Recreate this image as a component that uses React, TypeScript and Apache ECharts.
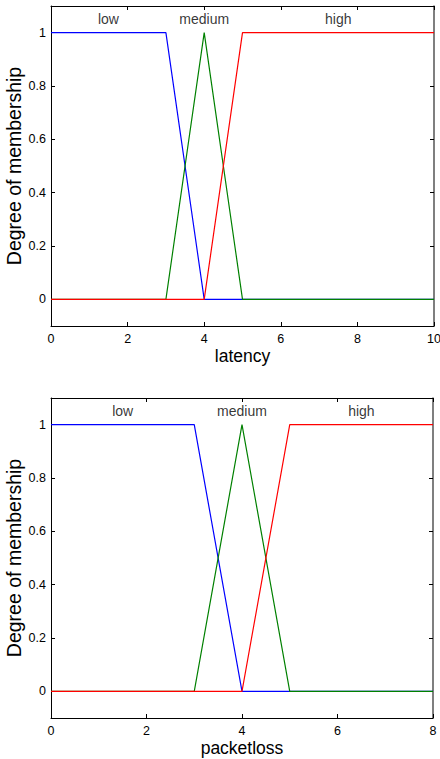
import React, { useEffect, useRef } from "react";
import * as echarts from "echarts";

// Membership function names and colours (low, medium, high)
const mfNames = ["low", "medium", "high"];
const mfColors = ["#0000ff", "#008000", "#ff0000"];

// latency input, range [0, 10]
const latencyRange = [0, 10];
const latencyLow = [[0, 1], [3, 1], [4, 0], [10, 0]];
const latencyMedium = [[0, 0], [3, 0], [4, 1], [5, 0], [10, 0]];
const latencyHigh = [[0, 0], [4, 0], [5, 1], [10, 1]];
const latencyLabelX = [1.5, 4, 7.5];

// packetloss input, range [0, 8]
const packetlossRange = [0, 8];
const packetlossLow = [[0, 1], [3, 1], [4, 0], [8, 0]];
const packetlossMedium = [[0, 0], [3, 0], [4, 1], [5, 0], [8, 0]];
const packetlossHigh = [[0, 0], [4, 0], [5, 1], [8, 1]];
const packetlossLabelX = [1.5, 4, 6.5];

const labelY = 1.05;
const yTicks = [0, 0.2, 0.4, 0.6, 0.8, 1];
const yRange = [-0.1, 1.1];

const FONT = "'Liberation Sans', Arial, Helvetica, sans-serif";

function xAxes(gridIndex: number, range: number[], name: string) {
  const common = {
    gridIndex,
    type: "value" as const,
    min: range[0],
    max: range[1],
    interval: 2,
    splitLine: { show: false },
    axisTick: { show: true, inside: true, length: 4, lineStyle: { color: "#000" } },
  };
  return [
    {
      ...common,
      position: "bottom",
      name,
      nameLocation: "middle",
      nameGap: 21,
      nameMoveOverlap: false,
      nameTextStyle: { fontSize: 17.5, color: "#000", fontFamily: FONT },
      axisLine: { show: true, onZero: false, lineStyle: { color: "#000", width: 1 } },
      axisLabel: { show: true, fontSize: 12.5, color: "#000", margin: 6, fontFamily: FONT },
    },
    {
      ...common,
      position: "top",
      axisLine: { show: true, onZero: false, lineStyle: { color: "#000", width: 1 } },
      axisLabel: { show: false },
    },
  ];
}

function yAxes(gridIndex: number) {
  const common = {
    gridIndex,
    type: "value" as const,
    min: yRange[0],
    max: yRange[1],
    splitLine: { show: false },
    axisTick: {
      show: true,
      inside: true,
      length: 4,
      customValues: yTicks,
      lineStyle: { color: "#000" },
    },
  };
  return [
    {
      ...common,
      position: "left",
      name: "Degree of membership",
      nameLocation: "middle",
      nameGap: 27,
      nameMoveOverlap: false,
      nameTextStyle: { fontSize: 19.5, color: "#000", fontFamily: FONT },
      axisLine: { show: true, onZero: false, lineStyle: { color: "#000", width: 1 } },
      axisLabel: {
        show: true,
        customValues: yTicks,
        fontSize: 12.5,
        color: "#000",
        margin: 5,
        fontFamily: FONT,
        formatter: (v: number) => String(v),
      },
    },
    {
      ...common,
      position: "right",
      axisLine: { show: true, onZero: false, lineStyle: { color: "#555", width: 1.5 } },
      axisLabel: { show: false },
    },
  ];
}

function mfSeries(axisIndex: number, curves: number[][][], labelX: number[]) {
  const lines = curves.map((data, i) => ({
    type: "line" as const,
    name: mfNames[i],
    xAxisIndex: axisIndex,
    yAxisIndex: axisIndex,
    data,
    symbol: "none",
    silent: true,
    lineStyle: { color: mfColors[i], width: 1.2 },
  }));
  const labels = {
    type: "scatter" as const,
    xAxisIndex: axisIndex,
    yAxisIndex: axisIndex,
    symbolSize: 1,
    silent: true,
    itemStyle: { color: "transparent" },
    data: mfNames.map((n, i) => ({ name: n, value: [labelX[i], labelY] })),
    label: {
      show: true,
      position: "inside",
      formatter: "{b}",
      fontSize: 14,
      color: "#000",
      fontFamily: FONT,
    },
  };
  return [...lines, labels];
}

export default function App() {
  const ref = useRef<HTMLDivElement>(null);

  useEffect(() => {
    if (!ref.current) return;
    const chart = echarts.init(ref.current, undefined, { renderer: "svg" });
    chart.setOption({
      animation: false,
      backgroundColor: "#fff",
      grid: [
        { left: 51, top: 6, width: 383, height: 320, containLabel: false, outerBoundsMode: "none" },
        { left: 51, top: 398, width: 382, height: 320, containLabel: false, outerBoundsMode: "none" },
      ],
      xAxis: [
        ...xAxes(0, latencyRange, "latency"),
        ...xAxes(1, packetlossRange, "packetloss"),
      ],
      yAxis: [...yAxes(0), ...yAxes(1)],
      series: [
        ...mfSeries(0, [latencyLow, latencyMedium, latencyHigh], latencyLabelX),
        ...mfSeries(2, [packetlossLow, packetlossMedium, packetlossHigh], packetlossLabelX),
      ],
    });
    return () => chart.dispose();
  }, []);

  return (
    <div
      ref={ref}
      style={{ position: "absolute", left: 0, top: 0, width: 440, height: 759 }}
    />
  );
}
